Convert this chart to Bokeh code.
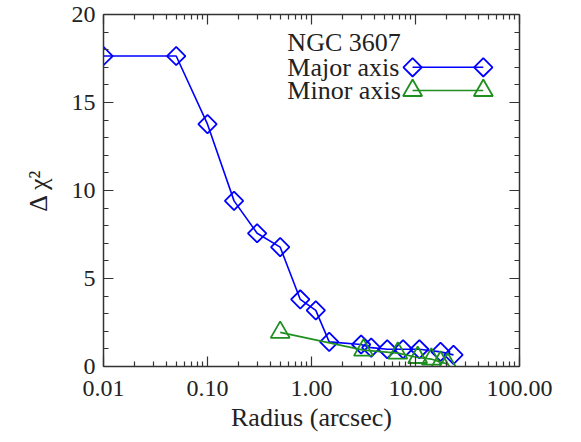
import math
from bokeh.plotting import figure
from bokeh.models import (Range1d, LinearAxis, LogAxis, FixedTicker, SingleIntervalTicker,
                          CustomJSTickFormatter, LinearScale, Label)
from bokeh.embed import file_html
from bokeh.resources import INLINE

# ---- data ----
major_radius = [0.01, 0.05, 0.10, 0.18, 0.30, 0.50, 0.78, 1.10, 1.48, 3.0, 3.75, 5.35, 7.6, 10.9, 17.4, 23.2]
major_dchi2 = [17.64, 17.64, 13.77, 9.41, 7.57, 6.78, 3.81, 3.19, 1.40, 1.25, 1.07, 0.98, 0.98, 0.98, 0.83, 0.66]

minor_radius = [0.50, 3.16, 6.76, 10.5, 14.2, 17.4, 20.4]
minor_dchi2 = [1.94, 0.93, 0.76, 0.51, 0.42, 0.24, 0.15]

x_major_ticks = [0.01, 0.1, 1.0, 10.0, 100.0]
y_tick_step = 5

title_text = "NGC 3607"
major_label = "Major axis"
minor_label = "Minor axis"
x_title = "Radius (arcsec)"
y_title = "\u0394 \u03c7\u00b2"

# ---- styles / layout ----
BLUE = "#0000ff"
GREEN = "#1f8f1f"
TXT = "#222222"
FONT = "Liberation Serif"
AX = "#333333"

# legend layout, as fractions of the plot frame
LEG_TEXT_X = 0.442
LEG_TITLE_Y = 0.920
LEG_ROW_Y = [0.850, 0.784]
LEG_SAMPLE_X = [0.743, 0.913]

x_minor_ticks = [m * d for d in x_major_ticks[:-1] for m in range(2, 10)]

p = figure(width=560, height=436, x_axis_type="log",
           x_range=Range1d(0.01, 100), y_range=Range1d(0, 20),
           output_backend="svg", toolbar_location=None,
           min_border_left=103, min_border_right=41, min_border_top=14, min_border_bottom=70)
p.grid.visible = False
p.outline_line_color = None
p.background_fill_color = "white"
p.border_fill_color = "white"

p.extra_x_ranges = {"leg": Range1d(0, 1)}
p.extra_y_ranges = {"leg": Range1d(0, 1)}
p.extra_x_scales = {"leg": LinearScale()}
p.extra_y_scales = {"leg": LinearScale()}

xt = FixedTicker(ticks=x_major_ticks, minor_ticks=x_minor_ticks)
yt = SingleIntervalTicker(interval=y_tick_step, num_minor_ticks=5)
fmt = CustomJSTickFormatter(code="return tick.toFixed(2)")


def style_axis(ax, labels=True):
    ax.axis_line_color = AX
    ax.axis_line_width = 1.5
    ax.major_tick_line_color = AX
    ax.minor_tick_line_color = AX
    ax.major_tick_line_width = 1.2
    ax.minor_tick_line_width = 1.2
    ax.major_tick_in = 10
    ax.major_tick_out = 0
    ax.minor_tick_in = 5
    ax.minor_tick_out = 0
    if labels:
        ax.major_label_text_font = FONT
        ax.major_label_text_font_size = "24px"
        ax.major_label_text_color = TXT
        ax.axis_label_text_font = FONT
        ax.axis_label_text_font_size = "26px"
        ax.axis_label_text_font_style = "normal"
        ax.axis_label_text_color = TXT
    else:
        ax.formatter = CustomJSTickFormatter(code="return ''")
        ax.major_label_text_font_size = "1px"
        ax.major_label_standoff = 0


xa = p.xaxis[0]
xa.ticker = xt
xa.formatter = fmt
xa.axis_label = x_title
xa.major_label_standoff = 14
xa.axis_label_standoff = 4
style_axis(xa)

ya = p.yaxis[0]
ya.ticker = yt
ya.axis_label = y_title
ya.major_label_standoff = 8
ya.axis_label_standoff = 16
style_axis(ya)

top = LogAxis(ticker=FixedTicker(ticks=x_major_ticks, minor_ticks=x_minor_ticks))
style_axis(top, labels=False)
p.add_layout(top, "above")

right = LinearAxis(ticker=SingleIntervalTicker(interval=y_tick_step, num_minor_ticks=5))
style_axis(right, labels=False)
p.add_layout(right, "right")

major_style = dict(marker="square", angle=math.pi / 4, size=13, fill_color=None,
                   line_color=BLUE, line_width=1.8)
minor_style = dict(marker="triangle", size=19, fill_color=None, line_color=GREEN, line_width=1.8)

p.line(major_radius, major_dchi2, line_color=BLUE, line_width=1.6)
p.scatter(major_radius, major_dchi2, **major_style)
p.line(minor_radius, minor_dchi2, line_color=GREEN, line_width=1.6)
p.scatter(minor_radius, minor_dchi2, **minor_style)

# ---- legend (drawn like the original: text on the left, sample on the right) ----
for row_y, colr, style in [(LEG_ROW_Y[0], BLUE, major_style), (LEG_ROW_Y[1], GREEN, minor_style)]:
    p.line(LEG_SAMPLE_X, [row_y, row_y], line_color=colr, line_width=1.6,
           x_range_name="leg", y_range_name="leg")
    p.scatter(LEG_SAMPLE_X, [row_y, row_y], x_range_name="leg", y_range_name="leg", **style)

for txt, ty in [(title_text, LEG_TITLE_Y), (major_label, LEG_ROW_Y[0]), (minor_label, LEG_ROW_Y[1])]:
    p.add_layout(Label(x=LEG_TEXT_X, y=ty, x_range_name="leg", y_range_name="leg", text=txt,
                       text_font=FONT, text_font_size="26px", text_color=TXT,
                       text_baseline="middle", text_align="left"))

open("out.html", "w").write(file_html(p, INLINE))
